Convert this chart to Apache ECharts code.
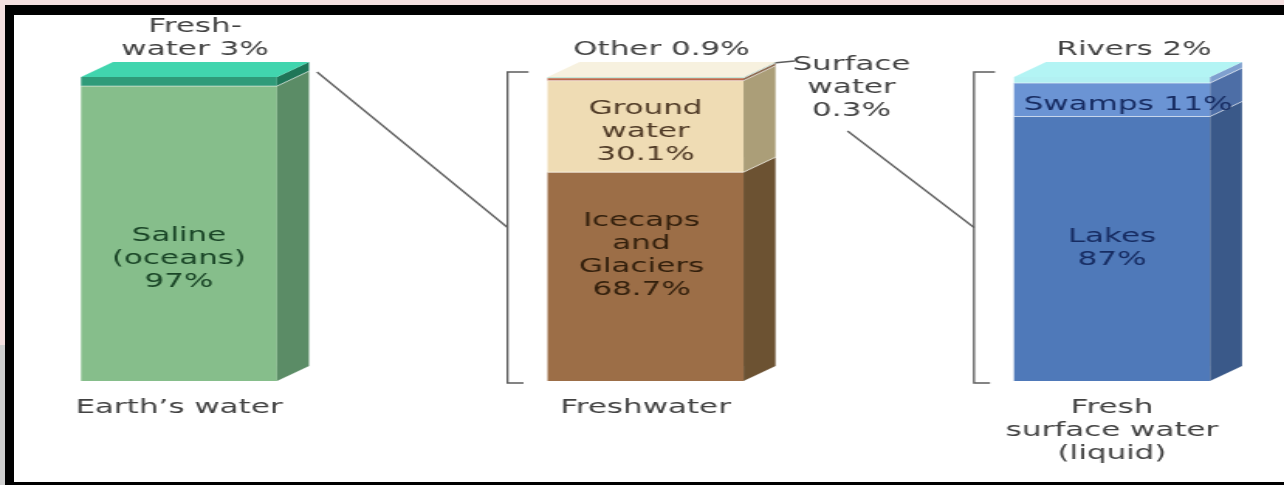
<!DOCTYPE html>
<html>
<head>
<meta charset="utf-8">
<script src="https://cdn.jsdelivr.net/npm/echarts@6/dist/echarts.min.js"></script>
<style>
  html, body { margin: 0; padding: 0; width: 1284px; height: 485px; overflow: hidden; background: #f3dfdf; }
  #frame { position: absolute; left: 5px; top: 5px; width: 1279px; height: 480px; background: #000; }
  #paper { position: absolute; left: 14px; top: 15px; width: 1270px; height: 467px; background: #fff; }
  #edge  { position: absolute; left: 0; top: 345px; width: 5px; height: 140px; background: #cfcfcf; }
  /* the drawing is laid out narrow and stretched sideways to give the wide lettering */
  #chart { position: absolute; left: 0; top: 0; width: 829px; height: 485px;
           transform: scaleX(1.548854); transform-origin: 0 0; }
</style>
</head>
<body>
<div id="frame"></div>
<div id="paper"></div>
<div id="edge"></div>
<div id="chart"></div>
<script>
// ---- data -------------------------------------------------------------
const categories = ['Earth\u2019s water', 'Freshwater', 'Fresh\nsurface water\n(liquid)'];

const earthNames  = ['Saline\n(oceans)', 'Fresh-\nwater'];
const earthValues = [97, 3];

const freshNames  = ['Icecaps\nand\nGlaciers', 'Ground\nwater', 'Other', 'Surface\nwater'];
const freshValues = [68.7, 30.1, 0.9, 0.3];

const surfaceNames  = ['Lakes', 'Swamps', 'Rivers'];
const surfaceValues = [87, 11, 2];

// ---- look -------------------------------------------------------------
const STRETCH = 1284 / 829;
const px = v => v / STRETCH;          // horizontal page pixels -> drawing units
const HW = px(98);                    // half width of a column front
const DX = px(32), DY = 15;           // depth of the 3-D extrusion
const FONT = '"DejaVu Sans", Verdana, sans-serif';
const TEXT = '#424242';

const earthLook = [
  { front: '#86be8b', side: '#5b8c66', place: 'inside', sep: '\n', color: '#1a4527', oy: 25 },
  { front: '#2f9b79', side: '#1f7658', place: 'above',  sep: ' ',  color: TEXT }
];
const freshLook = [
  { front: '#9c6e47', side: '#6c5232', place: 'inside', sep: '\n', color: '#33200d', oy: -21, ox: -4 },
  { front: '#efdcb4', side: '#ab9e78', place: 'inside', sep: '\n', color: '#503b27', oy: 5 },
  { front: '#b96a4c', side: '#8b6a50', place: 'above',  sep: ' ',  color: TEXT, ox: 16 },
  { front: '#a8dcc4', side: '#9cbfae', place: 'right',  sep: '\n', color: TEXT }
];
const surfaceLook = [
  { front: '#4f79b9', side: '#3a5989', place: 'inside', sep: '\n', color: '#172c62', oy: 0 },
  { front: '#6b94d4', side: '#4d6ea6', place: 'inside', sep: ' ',  color: '#172c62', oy: 5, ox: 16 },
  { front: '#b2f0f2', side: '#7fa0cf', place: 'above',  sep: ' ',  color: TEXT, ox: 22 }
];
const topFaces = ['#41d5ae', '#f7f1df', '#b3f4f4'];

const stacks = [
  [earthNames, earthValues, earthLook],
  [freshNames, freshValues, freshLook],
  [surfaceNames, surfaceValues, surfaceLook]
];

// flatten the stacks into segments [category, start, end]
const segs = [];
stacks.forEach(([names, values, look], ci) => {
  const total = values.reduce((a, b) => a + b, 0);
  let acc = 0;
  values.forEach((v, k) => {
    segs.push({
      cat: ci, start: acc, end: acc + v, name: names[k], value: v, look: look[k],
      total: total, isTop: k === values.length - 1, isBottom: k === 0, topFace: topFaces[ci]
    });
    acc += v;
  });
});

function labelText(g) {
  return g.name + g.look.sep + g.value + '%';
}

function textEl(x, y, text, color, align, vAlign) {
  return {
    type: 'text', x: x, y: y, z2: 20,
    style: { text: text, fill: color, fontSize: 20, fontFamily: FONT, lineHeight: 23,
             align: align, verticalAlign: vAlign }
  };
}

function renderItem(params, api) {
  const g = segs[params.dataIndex];
  const p0 = api.coord([g.cat, g.start]);
  const p1 = api.coord([g.cat, g.end]);
  const x = p0[0], yb = p0[1], yt = p1[1];
  const L = x - HW, R = x + HW;
  const kids = [
    { type: 'rect', shape: { x: L, y: yt, width: 2 * HW, height: yb - yt }, style: { fill: g.look.front } },
    { type: 'polygon', shape: { points: [[R, yt], [R + DX, yt - DY], [R + DX, yb - DY], [R, yb]] },
      style: { fill: g.look.side } }
  ];
  if (g.isTop) {
    kids.push({ type: 'polygon', shape: { points: [[L, yt], [L + DX, yt - DY], [R + DX, yt - DY], [R, yt]] },
                style: { fill: g.topFace } });
  }
  if (!g.isBottom) {
    kids.push({ type: 'polyline', shape: { points: [[L, yb], [R, yb], [R + DX, yb - DY]] },
                style: { stroke: 'rgba(255,255,255,0.55)', lineWidth: 1, fill: null } });
  }
  const lk = g.look;
  const text = labelText(g);
  const stackTop = api.coord([g.cat, g.total])[1];
  if (lk.place === 'inside') {
    kids.push(textEl(x + px(lk.ox || 0), (yb + yt) / 2 + (lk.oy || 0), text, lk.color, 'center', 'middle'));
  } else if (lk.place === 'above') {
    kids.push(textEl(x + px(lk.ox || 16), stackTop - DY - 1, text, lk.color, 'center', 'bottom'));
  } else {
    kids.push(textEl(R + DX + px(76), stackTop - DY - 9, text, lk.color, 'center', 'top'));
  }
  return { type: 'group', children: kids };
}

const chart = echarts.init(document.getElementById('chart'), null, { renderer: 'canvas', width: 829, height: 485 });

chart.setOption({
  animation: false,
  backgroundColor: 'transparent',
  grid: { left: px(179), right: 829 - px(1112), top: 77, bottom: 104, containLabel: false },
  xAxis: {
    type: 'category', data: categories, boundaryGap: false,
    axisLine: { show: false }, axisTick: { show: false }, splitLine: { show: false },
    axisLabel: { interval: 0, margin: 15, fontSize: 20, lineHeight: 23, color: TEXT, fontFamily: FONT }
  },
  yAxis: { type: 'value', min: 0, max: 100, show: false },
  series: [{
    type: 'custom', silent: true, renderItem: renderItem,
    encode: { x: 0, y: [1, 2] },
    data: segs.map(g => [g.cat, g.start, g.end])
  }]
});

// brackets and the connectors that tie each column to the next
const pt = (c, v) => chart.convertToPixel({ gridIndex: 0 }, [c, v]);
const LINE = { stroke: '#5c5c5c', lineWidth: 1.3, fill: null };

function bracket(c) {
  const xb = pt(c, 0)[0] - HW - px(40);
  const yTop = pt(c, 100)[1] - 5, yBot = pt(c, 0)[1] + 2;
  return { xb: xb, mid: (yTop + yBot) / 2,
    el: { type: 'polyline', silent: true,
          shape: { points: [[xb + px(21), yTop], [xb, yTop], [xb, yBot], [xb + px(16), yBot]] }, style: LINE } };
}
const b1 = bracket(1), b2 = bracket(2);
const top0 = pt(0, 100), top1 = pt(1, 100);
const backRight1 = top1[0] + HW + DX;
const surfaceLabelX = backRight1 + px(76);
const surfaceLabelBottom = top1[1] - DY - 9 + 3 * 23;

chart.setOption({
  graphic: [
    b1.el, b2.el,
    { type: 'line', silent: true, style: LINE,
      shape: { x1: top0[0] + HW + DX + px(8), y1: top0[1] - 5, x2: b1.xb, y2: b1.mid } },
    { type: 'line', silent: true, style: LINE,
      shape: { x1: backRight1 - px(2), y1: top1[1] - DY + 1, x2: backRight1 + px(19), y2: top1[1] - DY - 1 } },
    { type: 'line', silent: true, style: LINE,
      shape: { x1: surfaceLabelX - px(4), y1: surfaceLabelBottom + 9, x2: b2.xb, y2: b2.mid } }
  ]
});
</script>
</body>
</html>
